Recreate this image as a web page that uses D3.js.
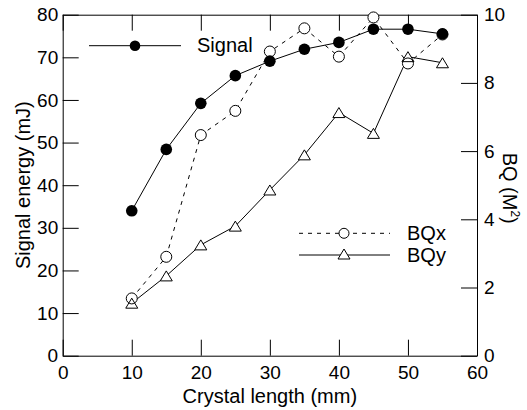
<!DOCTYPE html>
<html>
<head>
<meta charset="utf-8">
<script src="https://cdn.jsdelivr.net/npm/d3@7"></script>
<style>
  body { margin: 0; background: #fff; }
  svg { display: block; font-family: "Liberation Sans", Arial, sans-serif; }
  .axis path, .axis line { stroke: #000; stroke-width: 1; }
  .axis text { font-size: 19px; fill: #000; }
</style>
</head>
<body>
<div id="chart"></div>
<script>
// crystal length (mm)
const lengths = [10, 15, 20, 25, 30, 35, 40, 45, 50, 55];
// signal energy (mJ), left axis
const signal = [34.0, 48.4, 59.2, 65.7, 69.1, 71.9, 73.5, 76.6, 76.6, 75.5];
// beam quality M^2, right axis
const bqx = [1.68, 2.90, 6.47, 7.18, 8.92, 9.60, 8.77, 9.92, 8.57, 9.42];
const bqy = [1.54, 2.34, 3.25, 3.80, 4.86, 5.89, 7.13, 6.52, 8.77, 8.59];

const xTicks = [0, 10, 20, 30, 40, 50, 60];
const yLeftTicks = [0, 10, 20, 30, 40, 50, 60, 70, 80];
const yRightTicks = [0, 2, 4, 6, 8, 10];

const width = 527, height = 410;
const margin = {top: 14.7, right: 50, bottom: 54.3, left: 62.7};
const w = width - margin.left - margin.right;
const h = height - margin.top - margin.bottom;

const svg = d3.select('#chart').append('svg')
  .attr('width', width)
  .attr('height', height);

const g = svg.append('g')
  .attr('transform', 'translate(' + margin.left + ',' + margin.top + ')');

const x = d3.scaleLinear().domain([0, 60]).range([0, w]);
const yL = d3.scaleLinear().domain([0, 80]).range([h, 0]);
const yR = d3.scaleLinear().domain([0, 10]).range([h, 0]);

// axes, ticks point inward
g.append('g').attr('class', 'axis')
  .attr('transform', 'translate(0,' + h + ')')
  .call(d3.axisBottom(x).tickValues(xTicks).tickSizeInner(-16).tickSizeOuter(0).tickPadding(9.5));

g.append('g').attr('class', 'axis')
  .call(d3.axisTop(x).tickValues(xTicks).tickSizeInner(-16).tickSizeOuter(0).tickFormat(''));

g.append('g').attr('class', 'axis')
  .call(d3.axisLeft(yL).tickValues(yLeftTicks).tickSizeInner(-16).tickSizeOuter(0).tickPadding(4.5));

g.append('g').attr('class', 'axis')
  .attr('transform', 'translate(' + w + ',0)')
  .call(d3.axisRight(yR).tickValues(yRightTicks).tickSizeInner(-16).tickSizeOuter(0).tickPadding(7));

// axis titles
svg.append('text')
  .attr('x', margin.left + w / 2)
  .attr('y', 403)
  .attr('text-anchor', 'middle')
  .style('font-size', '20px')
  .text('Crystal length (mm)');

svg.append('text')
  .attr('transform', 'translate(30,' + (margin.top + h / 2) + ') rotate(-90)')
  .attr('text-anchor', 'middle')
  .style('font-size', '20px')
  .text('Signal energy (mJ)');

const rt = svg.append('text')
  .attr('transform', 'translate(503,' + (margin.top + h / 2 + 3) + ') rotate(90)')
  .attr('text-anchor', 'middle')
  .style('font-size', '20px');
rt.append('tspan').text('BQ (M');
rt.append('tspan').attr('dy', -8).style('font-size', '12px').text('2');
rt.append('tspan').attr('dy', 8).text(')');

// lines
const pts = (ys, scale) => lengths.map((d, i) => [x(d), scale(ys[i])]);
const line = d3.line();

g.append('path').attr('d', line(pts(bqy, yR)))
  .attr('fill', 'none').attr('stroke', '#000').attr('stroke-width', 1);
g.append('path').attr('d', line(pts(bqx, yR)))
  .attr('fill', 'none').attr('stroke', '#000').attr('stroke-width', 1)
  .attr('stroke-dasharray', '4,5');
g.append('path').attr('d', line(pts(signal, yL)))
  .attr('fill', 'none').attr('stroke', '#000').attr('stroke-width', 1);

const triPath = d => {
  const cx = d[0], cy = d[1];
  return 'M' + cx + ',' + (cy - 5) + 'L' + (cx + 6) + ',' + (cy + 5) + 'L' + (cx - 6) + ',' + (cy + 5) + 'Z';
};

// open markers: white knock-out first, then outlines so overlapping ones stay visible
['fill', 'outline'].forEach(pass => {
  const fill = pass === 'fill' ? '#fff' : 'none';
  const stroke = pass === 'fill' ? 'none' : '#000';
  g.selectAll('.tri-' + pass).data(pts(bqy, yR)).enter().append('path')
    .attr('class', 'tri-' + pass)
    .attr('d', triPath)
    .attr('fill', fill).attr('stroke', stroke).attr('stroke-width', 1);
  g.selectAll('.oc-' + pass).data(pts(bqx, yR)).enter().append('circle')
    .attr('class', 'oc-' + pass)
    .attr('cx', d => d[0]).attr('cy', d => d[1]).attr('r', 5.5)
    .attr('fill', fill).attr('stroke', stroke).attr('stroke-width', 1);
});

g.selectAll('.fcirc').data(pts(signal, yL)).enter().append('circle')
  .attr('class', 'fcirc')
  .attr('cx', d => d[0]).attr('cy', d => d[1]).attr('r', 5.8)
  .attr('fill', '#000');

// legends
const leg = svg.append('g');
leg.append('line').attr('x1', 89).attr('x2', 181).attr('y1', 45.7).attr('y2', 45.7)
  .attr('stroke', '#000').attr('stroke-width', 1);
leg.append('circle').attr('cx', 135).attr('cy', 45.7).attr('r', 5.3).attr('fill', '#000');
leg.append('text').attr('x', 197).attr('y', 52).style('font-size', '20px').text('Signal');

leg.append('line').attr('x1', 299).attr('x2', 390).attr('y1', 233.3).attr('y2', 233.3)
  .attr('stroke', '#000').attr('stroke-width', 1).attr('stroke-dasharray', '4,5');
leg.append('circle').attr('cx', 344).attr('cy', 233.3).attr('r', 5)
  .attr('fill', '#fff').attr('stroke', '#000').attr('stroke-width', 1);
leg.append('text').attr('x', 407).attr('y', 240).style('font-size', '20px').text('BQx');

leg.append('line').attr('x1', 299).attr('x2', 390).attr('y1', 255).attr('y2', 255)
  .attr('stroke', '#000').attr('stroke-width', 1);
leg.append('path').attr('d', triPath([344, 254]))
  .attr('fill', '#fff').attr('stroke', '#000').attr('stroke-width', 1);
leg.append('text').attr('x', 407).attr('y', 262).style('font-size', '20px').text('BQy');
</script>
</body>
</html>
